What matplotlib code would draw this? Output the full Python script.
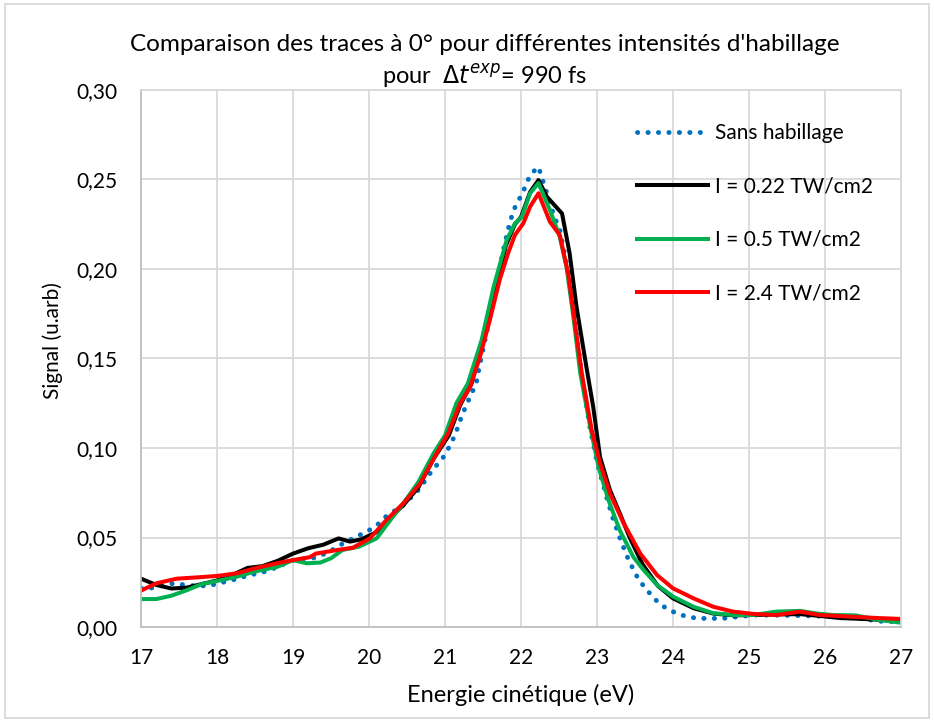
import matplotlib.pyplot as plt
import matplotlib.patches as patches
from matplotlib.ticker import FuncFormatter, MultipleLocator

plt.rcParams['font.family'] = ['Lato', 'DejaVu Sans']

# Sans habillage (pointillés bleus)
e_ref = [17.0, 17.14, 17.43, 17.58, 17.71, 17.86, 18.0, 18.14, 18.28, 18.41, 18.56, 18.7,
         18.83, 18.96, 19.1, 19.23, 19.37, 19.5, 19.63, 19.75, 19.88, 20.0, 20.12, 20.23,
         20.45, 20.66, 20.82, 21.0, 21.13, 21.23, 21.34, 21.41, 21.46, 21.61, 21.67, 21.72,
         21.78, 21.85, 21.89, 21.94, 22.02, 22.07, 22.14, 22.23, 22.27, 22.32, 22.4, 22.45,
         22.51, 22.6, 22.7, 22.8, 22.9, 23.0, 23.13, 23.21, 23.31, 23.42, 23.55, 23.64,
         23.73, 23.83, 23.95, 24.08, 24.22, 24.38, 24.52, 24.66, 24.79, 24.93, 25.08, 25.5,
         26.0, 26.5, 26.66, 26.81, 27.0]
s_ref = [0.0218, 0.0218, 0.0244, 0.0235, 0.023, 0.023, 0.024, 0.0257, 0.027, 0.029, 0.030, 0.032,
         0.034, 0.037, 0.038, 0.038, 0.040, 0.0426, 0.046, 0.0486, 0.0514, 0.054, 0.0575, 0.062,
         0.068, 0.077, 0.0868, 0.096, 0.107, 0.119, 0.1296, 0.136, 0.147, 0.177, 0.189, 0.201,
         0.213, 0.2255, 0.231, 0.2366, 0.242, 0.248, 0.2535, 0.257, 0.2516, 0.245, 0.234, 0.228,
         0.222, 0.203, 0.173, 0.141, 0.113, 0.092, 0.072, 0.0607, 0.0486, 0.037, 0.0263, 0.0216,
         0.017, 0.0127, 0.0095, 0.0071, 0.0054, 0.0048, 0.0048, 0.0048, 0.0054, 0.0061, 0.0067, 0.0065,
         0.006, 0.0048, 0.0034, 0.003, 0.003]

# I = 0.22 TW/cm2
e_022 = [17.0, 17.2, 17.4, 17.6, 17.8, 18.0, 18.2, 18.4, 18.6, 18.8, 19.0, 19.2, 19.4, 19.6,
         19.75, 19.9, 20.1, 20.25, 20.45, 20.65, 20.85, 21.05, 21.2, 21.35, 21.5, 21.65, 21.8,
         21.92, 22.0, 22.12, 22.23, 22.34, 22.54, 22.64, 22.73, 22.86, 22.95, 23.04, 23.17,
         23.3, 23.43, 23.6, 23.8, 24.0, 24.27, 24.53, 24.8, 25.06, 25.36, 25.67, 25.93, 26.2,
         26.5, 26.8, 27.0]
s_022 = [0.027, 0.0235, 0.0215, 0.022, 0.024, 0.026, 0.029, 0.033, 0.034, 0.037, 0.041, 0.044,
         0.046, 0.0495, 0.0477, 0.049, 0.053, 0.060, 0.068, 0.078, 0.094, 0.107, 0.124, 0.136,
         0.160, 0.186, 0.213, 0.225, 0.229, 0.243, 0.2497, 0.2404, 0.231, 0.2087, 0.179, 0.1454,
         0.123, 0.095, 0.0765, 0.0635, 0.050, 0.035, 0.023, 0.016, 0.0105, 0.0075, 0.0065,
         0.0067, 0.007, 0.0072, 0.0062, 0.005, 0.0045, 0.0038, 0.0035]

# I = 0.5 TW/cm2
e_05 = [17.0, 17.2, 17.4, 17.6, 17.8, 18.0, 18.25, 18.5, 18.8, 19.0, 19.18, 19.36, 19.5, 19.65,
        19.87, 20.1, 20.25, 20.45, 20.65, 20.85, 21.0, 21.15, 21.3, 21.48, 21.64, 21.81, 21.92,
        22.01, 22.12, 22.23, 22.38, 22.51, 22.6, 22.69, 22.78, 22.91, 23.02, 23.15, 23.3, 23.48,
        23.61, 23.79, 24.0, 24.27, 24.53, 24.79, 25.06, 25.36, 25.67, 25.9, 26.1, 26.4, 26.7, 27.0]
s_05 = [0.0156, 0.0156, 0.0175, 0.0205, 0.024, 0.0257, 0.028, 0.031, 0.0337, 0.0374, 0.0356,
        0.036, 0.0384, 0.043, 0.0449, 0.0495, 0.058, 0.069, 0.081, 0.097, 0.107, 0.125, 0.136,
        0.160, 0.190, 0.216, 0.2255, 0.229, 0.2423, 0.248, 0.233, 0.218, 0.201, 0.173, 0.1417,
        0.112, 0.0895, 0.071, 0.054, 0.039, 0.032, 0.0235, 0.017, 0.0113, 0.0077, 0.0067, 0.0067,
        0.0086, 0.009, 0.0075, 0.0067, 0.0065, 0.004, 0.0024]

# I = 2.4 TW/cm2
e_24 = [17.0, 17.2, 17.47, 17.73, 18.0, 18.26, 18.52, 18.79, 19.0, 19.22, 19.3, 19.58, 19.79,
        20.01, 20.23, 20.45, 20.67, 20.89, 21.04, 21.2, 21.33, 21.46, 21.59, 21.72, 21.83, 21.92,
        22.03, 22.12, 22.23, 22.38, 22.51, 22.62, 22.71, 22.8, 22.93, 23.04, 23.17, 23.35, 23.57,
        23.79, 24.0, 24.27, 24.53, 24.79, 25.06, 25.36, 25.67, 25.93, 26.33, 26.7, 27.0]
s_24 = [0.0203, 0.0244, 0.027, 0.0277, 0.0285, 0.030, 0.033, 0.0356, 0.0374, 0.039, 0.041, 0.043,
        0.0443, 0.0495, 0.0598, 0.069, 0.080, 0.097, 0.108, 0.125, 0.134, 0.151, 0.1715, 0.194,
        0.2088, 0.219, 0.2255, 0.2348, 0.2423, 0.2264, 0.219, 0.1975, 0.1696, 0.1417, 0.110,
        0.0915, 0.0747, 0.058, 0.041, 0.029, 0.0216, 0.016, 0.0113, 0.0086, 0.0073, 0.0067,
        0.0086, 0.0067, 0.0058, 0.005, 0.0045]

GRIS = '#d9d9d9'

fig = plt.figure(figsize=(9.34, 7.22), dpi=100)
ax = fig.add_axes([141/934, 1 - 627/722, 760/934, 537/722])

ax.plot(e_ref, s_ref, color='#0070C0', lw=3.5, dashes=(0.05, 2.1),
        dash_capstyle='round', label='Sans habillage')
ax.plot(e_022, s_022, color='black', lw=2.9, label='I = 0.22 TW/cm2')
ax.plot(e_05, s_05, color='#00B050', lw=2.9, label='I = 0.5 TW/cm2')
ax.plot(e_24, s_24, color='#FF0000', lw=2.9, label='I = 2.4 TW/cm2')

ax.set_xlim(17, 27)
ax.set_ylim(0, 0.30)
ax.xaxis.set_major_locator(MultipleLocator(1))
ax.yaxis.set_major_locator(MultipleLocator(0.05))
ax.yaxis.set_major_formatter(FuncFormatter(lambda v, p: ('%.2f' % v).replace('.', ',')))
ax.grid(True, color=GRIS, lw=1.3)
ax.set_axisbelow(True)
for s in ax.spines.values():
    s.set_color(GRIS)
    s.set_linewidth(1.3)
ax.spines['bottom'].set_color('#bfbfbf')
ax.spines['left'].set_color('#bfbfbf')
ax.tick_params(length=0, labelsize=15, colors='black')
ax.tick_params(axis='x', pad=15)
ax.tick_params(axis='y', pad=17)

ax.set_xlabel('Energie cinétique (eV)', fontsize=17, va='center')
ax.xaxis.set_label_coords(0.5, -0.127)
ax.set_ylabel('Signal (u.arb)', fontsize=15, va='center')
ax.yaxis.set_label_coords(-0.116, 0.533)

fig.text(0.519, 0.938, "Comparaison des traces à 0° pour différentes intensités d'habillage",
         ha='center', va='center', fontsize=17.5)
fig.text(0.519, 0.895, r'pour  $\Delta t^{exp}$= 990 fs', ha='center', va='center', fontsize=17)

ax.legend(loc='upper left', bbox_to_anchor=(629/934, 1 - 115/722), bbox_transform=fig.transFigure,
          frameon=False, fontsize=15, handlelength=3.37, handletextpad=0.38, labelspacing=1.6,
          borderaxespad=0)

fig.patches.append(patches.Rectangle((5/934, 4/722), 924/934, 714/722, transform=fig.transFigure,
                                     fill=False, edgecolor=GRIS, lw=1.3))

fig.savefig('out.png', dpi=100)
